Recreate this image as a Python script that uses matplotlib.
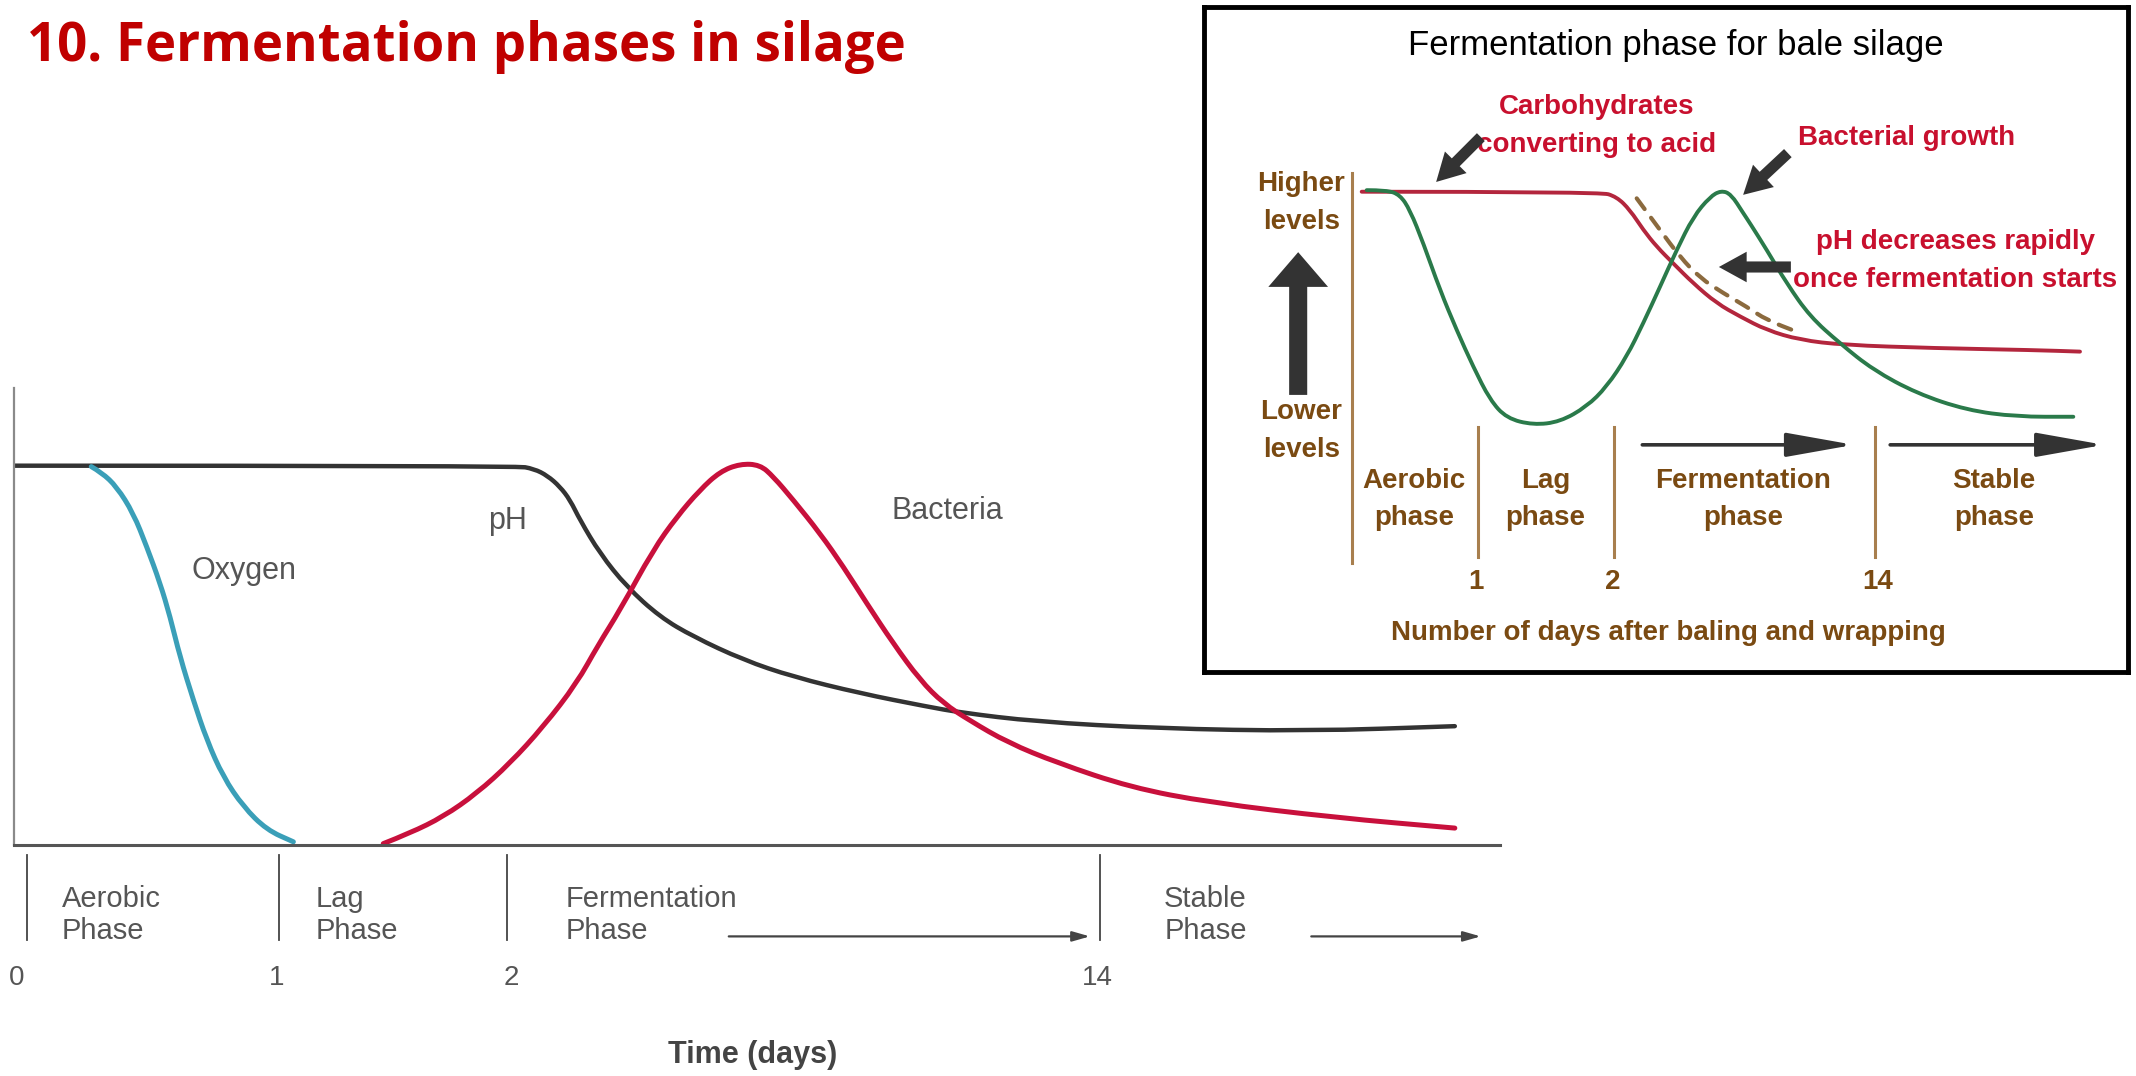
import matplotlib
matplotlib.use("Agg")
import matplotlib.pyplot as plt
from matplotlib import font_manager
from matplotlib.path import Path
from matplotlib.patches import PathPatch

installed = {f.name for f in font_manager.fontManager.ttflist}
NARROW = "Liberation Sans Narrow" if "Liberation Sans Narrow" in installed else "Liberation Sans"

# ---------------------------
# Left chart: x = position along the time axis (0-100), y = relative level (0-1)
# ---------------------------
ph_x = [0.0, 33.8, 35.0, 35.9, 36.74, 37.42, 38.09, 39.43, 41.23, 43.47, 45.71,
        49.08, 52.44, 56.93, 61.42, 63.66, 68.73, 76.98, 87.06, 96.96]
ph_y = [0.830, 0.830, 0.823, 0.808, 0.784, 0.755, 0.711, 0.638, 0.565, 0.499, 0.456,
        0.405, 0.368, 0.332, 0.303, 0.290, 0.270, 0.255, 0.249, 0.260]

oxygen_x = [5.2, 5.9, 6.91, 8.03, 8.93, 9.83, 10.50, 11.17, 12.07, 12.97, 14.08,
            15.43, 17.01, 18.80]
oxygen_y = [0.828, 0.815, 0.784, 0.726, 0.653, 0.573, 0.500, 0.412, 0.317, 0.230,
            0.149, 0.084, 0.033, 0.007]

bacteria_x = [24.85, 26.65, 28.89, 31.14, 33.38, 35.62, 37.87, 39.3, 40.78,
              43.02, 44.60, 46.16, 47.51, 48.86, 50.20, 51.10, 52.44, 54.24, 55.81,
              57.38, 59.17, 60.97, 62.54, 64.33, 66.89, 70.19, 75.15, 80.46, 88.89,
              96.96]
bacteria_y = [0.003, 0.026, 0.062, 0.113, 0.179, 0.259, 0.354, 0.437, 0.514,
              0.646, 0.718, 0.777, 0.817, 0.834, 0.832, 0.806, 0.755, 0.682, 0.609,
              0.529, 0.441, 0.361, 0.310, 0.272, 0.224, 0.180, 0.126, 0.093, 0.060,
              0.037]

phase_bounds = [0.9, 17.8, 33.2, 73.1]
day_labels = ["0", "1", "2", "14"]
day_label_x = [0.2, 17.7, 33.5, 72.9]
phase_names = ["Aerobic\nPhase", "Lag\nPhase", "Fermentation\nPhase", "Stable\nPhase"]
phase_name_x = [3.2, 20.3, 37.1, 77.4]
phase_arrows = [(48.1, 72.4), (87.3, 98.7)]

# ---------------------------
# Inset: bale silage
# ---------------------------
bale_ph_x = [1.28, 32.72, 34.92, 36.68, 38.43, 40.20, 42.39, 45.03, 48.11, 51.19,
             54.71, 59.10, 64.82, 76.69, 89.88, 96.04]
bale_ph_y = [0.952, 0.952, 0.939, 0.905, 0.854, 0.811, 0.768, 0.717, 0.666, 0.632,
             0.597, 0.572, 0.559, 0.551, 0.546, 0.542]

bale_bact_x = [1.94, 4.58, 6.33, 7.65, 9.41, 11.61, 13.81, 16.00, 18.21, 20.41, 23.92,
               27.44, 30.96, 33.60, 36.24, 38.43, 40.63, 42.84, 45.03, 47.23, 48.68,
               50.0, 51.62, 52.51, 54.71, 57.35, 60.42, 64.38, 68.77, 74.50, 81.09,
               87.69, 95.16]
bale_bact_y = [0.956, 0.956, 0.944, 0.905, 0.820, 0.700, 0.597, 0.503, 0.418, 0.371,
               0.354, 0.362, 0.401, 0.452, 0.529, 0.615, 0.708, 0.803, 0.888, 0.939,
               0.955, 0.946, 0.897, 0.871, 0.803, 0.717, 0.632, 0.563, 0.495, 0.435,
               0.392, 0.375, 0.375]

bale_dash_x = [37.56, 40.63, 43.27, 45.91, 48.98, 52.07, 54.71, 58.67]
bale_dash_y = [0.935, 0.854, 0.785, 0.731, 0.692, 0.657, 0.623, 0.593]

bale_bounds = [16.6, 34.6, 69.0]
bale_days = ["1", "2", "14"]
bale_day_x = [16.4, 34.4, 69.4]
bale_phase_names = ["Aerobic\nphase", "Lag\nphase", "Fermentation\nphase", "Stable\nphase"]
bale_phase_x = [8.2, 25.5, 51.6, 84.7]
bale_arrows = [(38.3, 66.2), (71.0, 99.2)]

GRAY_TXT = "#555555"
BROWN = "#7a4a12"
RED_TXT = "#c8102e"
TAN = "#a87f4e"


def smooth_line(ax, xs, ys, **kw):
    # quadratic curve through the midpoints, the read points act as control points
    pts = list(zip(xs, ys))
    verts = [pts[0]]
    codes = [Path.MOVETO]
    for i in range(1, len(pts) - 1):
        mid = ((pts[i][0] + pts[i + 1][0]) / 2, (pts[i][1] + pts[i + 1][1]) / 2)
        verts += [pts[i], mid]
        codes += [Path.CURVE3, Path.CURVE3]
    verts.append(pts[-1])
    codes.append(Path.LINETO)
    ax.add_patch(PathPatch(Path(verts, codes), fill=False, capstyle="round",
                           joinstyle="round", **kw))


fig = plt.figure(figsize=(21.36, 10.76), dpi=100)
fig.patch.set_facecolor("white")

fig.text(27 / 2136, 1 - 61 / 1076, "10. Fermentation phases in silage",
         family="Open Sans", fontweight="bold", fontsize=38, color="#c00000", va="baseline")

# ---------------------------
# Left chart
# ---------------------------
ax = fig.add_axes([14 / 2136, 231 / 1076, 1486 / 2136, 457 / 1076])
ax.set_xlim(0, 100)
ax.set_ylim(0, 1)
ax.set_xticks([])
ax.set_yticks([])
for s in ["top", "right"]:
    ax.spines[s].set_visible(False)
ax.spines["left"].set_color("#8a8a8a")
ax.spines["left"].set_linewidth(1.6)
ax.spines["bottom"].set_color("#555555")
ax.spines["bottom"].set_linewidth(2.2)

smooth_line(ax, ph_x, ph_y, color="#333333", lw=3.2)
smooth_line(ax, oxygen_x, oxygen_y, color="#3a9fb8", lw=3.6)
smooth_line(ax, bacteria_x, bacteria_y, color="#c8103c", lw=3.6)

ax.text(15.5, 0.60, "Oxygen", family=NARROW, fontsize=22, color=GRAY_TXT, ha="center", va="center")
ax.text(33.2, 0.71, "pH", family=NARROW, fontsize=22, color=GRAY_TXT, ha="center", va="center")
ax.text(62.8, 0.73, "Bacteria", family=NARROW, fontsize=22, color=GRAY_TXT, ha="center", va="center")

for bx in phase_bounds:
    ax.plot([bx, bx], [-0.022, -0.208], color="#444444", lw=1.3, clip_on=False)
for lx, lab in zip(day_label_x, day_labels):
    ax.text(lx, -0.29, lab, family=NARROW, fontsize=20, color=GRAY_TXT, ha="center", va="center")
for px, name in zip(phase_name_x, phase_names):
    ax.text(px, -0.153, name, family=NARROW, fontsize=21, color=GRAY_TXT, ha="left",
            va="center", linespacing=1.15)
for x0, x1 in phase_arrows:
    ax.annotate("", xy=(x1, -0.2), xytext=(x0, -0.2), annotation_clip=False,
                arrowprops=dict(arrowstyle="-|>,head_length=1.05,head_width=0.3",
                                mutation_scale=10, lw=1.6, color="#444444",
                                shrinkA=0, shrinkB=0))
ax.text(49.7, -0.46, "Time (days)", family=NARROW, fontweight="bold", fontsize=22,
        color="#444444", ha="center", va="center")

# ---------------------------
# Inset box
# ---------------------------
box = fig.add_axes([1204 / 2136, 404 / 1076, 924 / 2136, 665 / 1076])
box.set_xticks([])
box.set_yticks([])
box.set_facecolor("white")
for s in box.spines.values():
    s.set_linewidth(3.5)
    s.set_color("black")

fig.text(1676 / 2136, 1 - 45 / 1076, "Fermentation phase for bale silage", family=NARROW,
         fontsize=25, color="black", ha="center", va="center")

axr = fig.add_axes([1352 / 2136, 513 / 1076, 758 / 2136, 390 / 1076])
axr.patch.set_alpha(0)
axr.set_xlim(0, 100)
axr.set_ylim(0, 1)
axr.set_xticks([])
axr.set_yticks([])
for s in ["top", "right", "bottom"]:
    axr.spines[s].set_visible(False)
axr.spines["left"].set_color(TAN)
axr.spines["left"].set_linewidth(2.2)

smooth_line(axr, bale_ph_x, bale_ph_y, color="#b3263d", lw=2.8)
smooth_line(axr, bale_bact_x, bale_bact_y, color="#2a7a4a", lw=2.8)
smooth_line(axr, bale_dash_x, bale_dash_y, color="#8b6a3e", lw=3.0, linestyle=(0, (3.2, 2.6)))

for bx in bale_bounds:
    axr.plot([bx, bx], [0.349, 0.015], color=TAN, lw=2.2, clip_on=False)
for lx, lab in zip(bale_day_x, bale_days):
    axr.text(lx, -0.049, lab, family=NARROW, fontweight="bold", fontsize=20, color=BROWN,
             ha="center", va="center")
for px, name in zip(bale_phase_x, bale_phase_names):
    axr.text(px, 0.164, name, family=NARROW, fontweight="bold", fontsize=20, color=BROWN,
             ha="center", va="center", linespacing=1.55)
for x0, x1 in bale_arrows:
    axr.annotate("", xy=(x1, 0.303), xytext=(x0, 0.303), annotation_clip=False,
                 arrowprops=dict(arrowstyle="-|>,head_length=2.08,head_width=0.37",
                                 mutation_scale=20, lw=2.6, color="#333333",
                                 shrinkA=0, shrinkB=0))
axr.text(41.8, -0.179, "Number of days after baling and wrapping", family=NARROW,
         fontweight="bold", fontsize=20, color=BROWN, ha="center", va="center")

axr.text(-6.7, 0.924, "Higher\nlevels", family=NARROW, fontweight="bold", fontsize=20,
         color=BROWN, ha="center", va="center", linespacing=1.6)
axr.text(-6.7, 0.338, "Lower\nlevels", family=NARROW, fontweight="bold", fontsize=20,
         color=BROWN, ha="center", va="center", linespacing=1.6)
axr.annotate("", xy=(-7.1, 0.797), xytext=(-7.1, 0.431), annotation_clip=False,
             arrowprops=dict(arrowstyle="simple,head_length=1.25,head_width=2.15,tail_width=0.65",
                             mutation_scale=20, color="#333333", lw=0, shrinkA=0, shrinkB=0))

axr.text(32.3, 1.12, "Carbohydrates\nconverting to acid", family=NARROW, fontweight="bold",
         fontsize=20, color=RED_TXT, ha="center", va="center", linespacing=1.6)
axr.text(73.2, 1.09, "Bacterial growth", family=NARROW, fontweight="bold",
         fontsize=20, color=RED_TXT, ha="center", va="center")
axr.text(79.6, 0.775, "pH decreases rapidly\nonce fermentation starts", family=NARROW,
         fontweight="bold", fontsize=20, color=RED_TXT, ha="center", va="center",
         linespacing=1.6)

for (x0, y0), (x1, y1) in [((17.0, 1.092), (11.1, 0.977)),
                           ((57.5, 1.051), (51.6, 0.944)),
                           ((57.9, 0.759), (48.4, 0.759))]:
    axr.annotate("", xy=(x1, y1), xytext=(x0, y0), annotation_clip=False,
                 arrowprops=dict(arrowstyle="simple,head_length=2.0,head_width=2.2,tail_width=0.8",
                                 mutation_scale=10, color="#333333", lw=0,
                                 shrinkA=0, shrinkB=0))

fig.savefig("out.png", dpi=100)
